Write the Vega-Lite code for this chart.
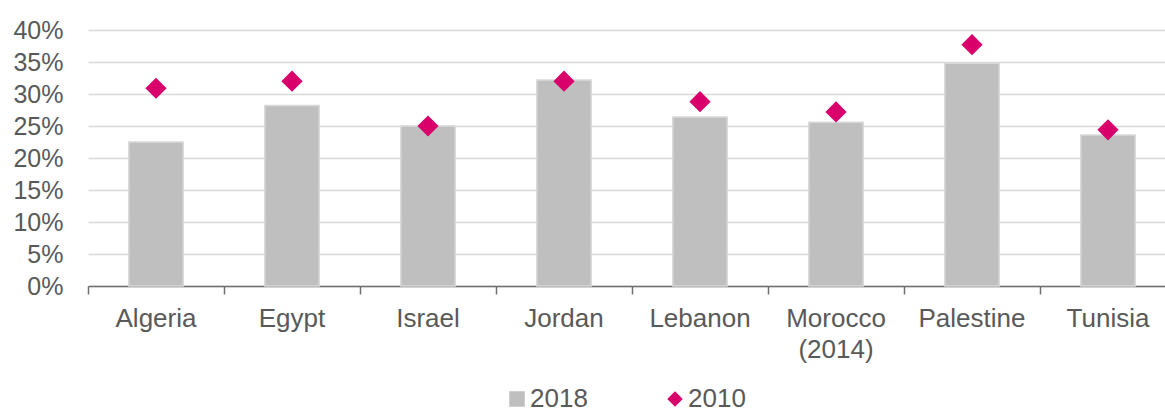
{
  "$schema": "https://vega.github.io/schema/vega-lite/v6.json",
  "width": 1088,
  "height": 256,
  "autosize": "none",
  "padding": {"left": 88, "top": 30, "right": 0, "bottom": 129},
  "background": "white",
  "config": {
    "view": {"stroke": null},
    "font": "Liberation Sans",
    "axis": {"labelFont": "Liberation Sans", "labelColor": "#595959", "labelFontSize": 25}
  },
  "data": {
    "values": [
      {"country": "Algeria", "series": "2018", "value": 0.225},
      {"country": "Egypt", "series": "2018", "value": 0.282},
      {"country": "Israel", "series": "2018", "value": 0.250},
      {"country": "Jordan", "series": "2018", "value": 0.322},
      {"country": "Lebanon", "series": "2018", "value": 0.264},
      {"country": "Morocco|(2014)", "series": "2018", "value": 0.256},
      {"country": "Palestine", "series": "2018", "value": 0.348},
      {"country": "Tunisia", "series": "2018", "value": 0.236},
      {"country": "Algeria", "series": "2010", "value": 0.309},
      {"country": "Egypt", "series": "2010", "value": 0.320},
      {"country": "Israel", "series": "2010", "value": 0.250},
      {"country": "Jordan", "series": "2010", "value": 0.320},
      {"country": "Lebanon", "series": "2010", "value": 0.288},
      {"country": "Morocco|(2014)", "series": "2010", "value": 0.272},
      {"country": "Palestine", "series": "2010", "value": 0.377},
      {"country": "Tunisia", "series": "2010", "value": 0.244}
    ]
  },
  "encoding": {
    "x": {
      "field": "country",
      "type": "nominal",
      "sort": null,
      "title": null,
      "scale": {"paddingInner": 0, "paddingOuter": 0},
      "axis": {
        "bandPosition": 0,
        "labelAngle": 0,
        "labelFontSize": 26,
        "labelPadding": 11,
        "labelExpr": "split(datum.label, '|')",
        "labelLineHeight": 31,
        "labelBaseline": "top",
        "tickSize": 8,
        "tickColor": "#6d6d6d",
        "tickWidth": 1.5,
        "domainColor": "#6d6d6d",
        "domainWidth": 1.5,
        "grid": false
      }
    },
    "y": {
      "field": "value",
      "type": "quantitative",
      "title": null,
      "scale": {"domain": [0, 0.4], "nice": false},
      "axis": {
        "format": ".0%",
        "values": [0, 0.05, 0.1, 0.15, 0.2, 0.25, 0.3, 0.35, 0.4],
        "domain": false,
        "ticks": false,
        "labelPadding": 25,
        "grid": true,
        "gridColor": "#d9d9d9",
        "gridWidth": 1.5
      }
    },
    "color": {
      "field": "series",
      "type": "nominal",
      "scale": {"domain": ["2018", "2010"], "range": ["#bfbfbf", "#d9006c"]},
      "legend": {
        "title": null,
        "orient": "none",
        "legendX": 416,
        "legendY": 356,
        "direction": "horizontal",
        "labelFontSize": 26,
        "labelColor": "#595959",
        "labelFont": "Liberation Sans",
        "symbolSize": 240,
        "symbolStrokeWidth": 0,
        "columnPadding": 74,
        "labelOffset": 0
      }
    }
  },
  "layer": [
    {
      "transform": [{"filter": "datum.series == '2018'"}],
      "mark": {"type": "bar", "width": {"band": 0.4}, "stroke": "#d9d9d9", "strokeWidth": 1.5}
    },
    {
      "transform": [{"filter": "datum.series == '2010'"}],
      "mark": {"type": "point", "filled": true, "size": 450, "opacity": 1},
      "encoding": {
        "shape": {
          "field": "series",
          "type": "nominal",
          "scale": {"domain": ["2018", "2010"], "range": ["square", "diamond"]},
          "legend": {
            "title": null,
            "orient": "none",
            "legendX": 416,
            "legendY": 356,
            "direction": "horizontal",
            "labelFontSize": 26,
            "labelColor": "#595959",
            "symbolSize": 240,
            "columnPadding": 74,
            "labelOffset": 0
          }
        }
      }
    }
  ]
}
